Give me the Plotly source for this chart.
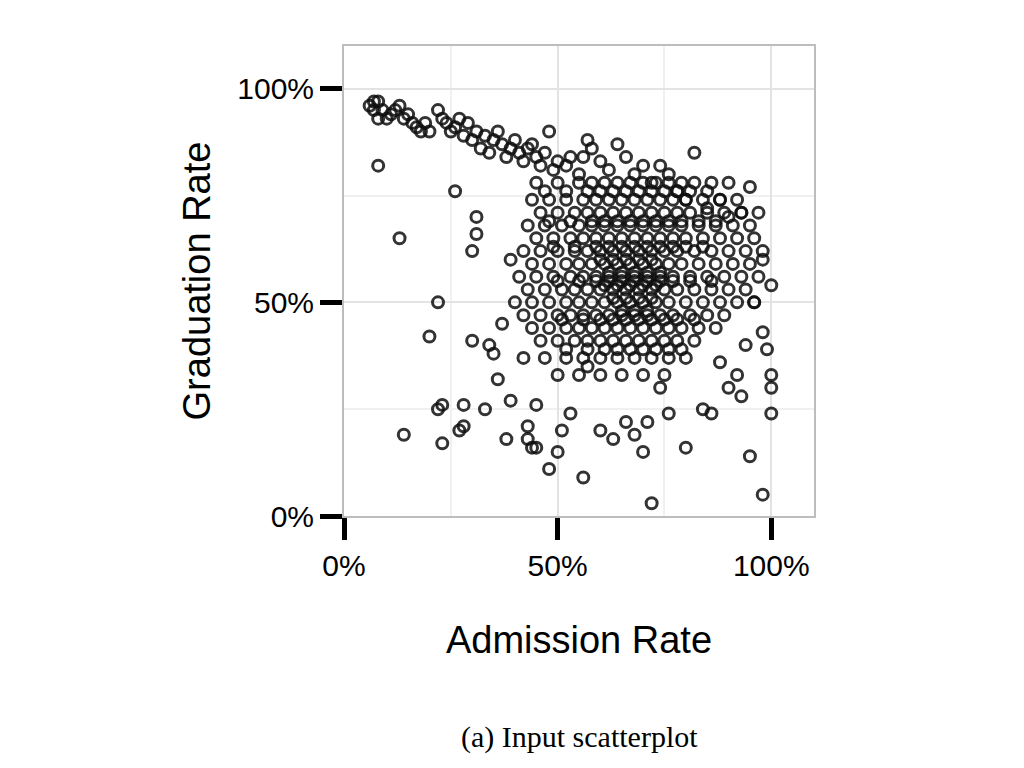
import plotly.graph_objects as go

# Admission rate (%) and graduation rate (%)
frontier_x = [6,7,7,8,8,9,10,11,12,13,14,15,16,17,18,19,20,22,23,24,25,26,27,28,29,30,31,32,33,34,35,36,37,38,39,40,41,42,43,44,45,46,47,48,49,50,52,53,55,56,57,58,60,62,64,66,68,70,72,74,76,78,80,82,85,88,90,93,95]
frontier_y = [96,97,95,93,97,95,93,94,95,96,93,94,92,91,90,92,90,95,93,92,90,91,93,89,92,88,90,86,89,85,88,90,87,84,86,88,85,83,86,87,84,82,85,90,81,83,82,84,80,84,88,86,83,81,87,84,80,82,78,82,80,76,74,85,72,74,70,71,77]
outlier_x = [8,13,14,20,22,22,23,23,26,27,28,28,30,30,31,31,33,34,35,36,37,38,39,39,42,43,43,44,45,45,48,50,51,53,57,56,60,63,66,68,70,72,71,80,84,86,90,93,95,98,100,100,100,99,98,100,98,94,96,92,88,76,74]
outlier_y = [82,65,19,42,50,25,26,17,76,20,21,26,41,62,70,66,25,40,38,32,45,18,60,27,37,21,18,16,16,26,11,15,20,24,35,9,20,18,22,19,15,3,22,16,25,24,30,28,14,5,24,30,33,39,43,54,60,40,50,33,36,24,30]
cluster_x = [45,50,55,58,61,64,67,70,73,76,79,82,86,90,
             44,48,52,56,59,62,65,68,71,74,77,80,84,88,92,
             46,50,54,57,60,63,66,69,72,75,78,81,85,89,93,97,
             43,47,51,55,58,61,64,67,70,73,76,79,83,87,91,95,
             45,49,53,56,59,62,65,68,71,74,77,80,84,88,92,96,
             42,46,50,54,57,60,63,66,69,72,75,78,82,86,90,94,98,
             44,48,52,55,58,61,64,67,70,73,76,79,83,87,91,95,
             41,45,49,53,56,59,62,65,68,71,74,77,81,85,89,93,97,
             43,47,51,54,57,60,63,66,69,72,75,78,82,86,90,94,
             40,44,48,52,55,58,61,64,67,70,73,76,80,84,88,92,96,
             42,46,50,53,56,59,62,65,68,71,74,77,81,85,89,
             44,48,52,55,58,61,64,67,70,73,76,79,83,87,
             46,50,54,57,60,63,66,69,72,75,78,82,
             47,52,56,60,64,68,72,76,80,
             50,55,60,65,70,75,
             60,63,66,69,72,62,65,68,71,74,61,64,67,70,73,63,66,69,72,65,68,71]
cluster_y = [78]*14 + [74]*15 + [71]*16 + [68]*16 + [65]*16 + [62]*17 + [59]*16 + [56]*17 + [53]*16 + [50]*17 + [47]*15 + [44]*14 + [41]*12 + [37]*9 + [33]*6 + \
            [60,60,60,60,60,57,57,57,57,57,54,54,54,54,54,51,51,51,51,48,48,48]
# extra points filling the dense core, interleaved with the rows above
core_x = [47,52,57,60,63,66,69,72,75,78,81,85,48,53,58,61,64,67,70,73,76,79,83,87,
          49,54,59,62,65,68,71,74,77,80,84,50,55,59,62,65,68,71,74,77,81,86,
          51,56,60,63,66,69,72,75,78,82,52,57,61,64,67,70,73,76,79]
core_y = [76]*12 + [69]*12 + [63]*11 + [55]*11 + [46]*10 + [39]*9

xs = frontier_x + outlier_x + cluster_x + core_x
ys = frontier_y + outlier_y + cluster_y + core_y

fig = go.Figure(go.Scatter(
    x=xs, y=ys, mode="markers",
    marker=dict(symbol="circle-open", size=11, color="rgba(15,15,15,0.85)", line=dict(width=3)),
    showlegend=False))

axcommon = dict(range=[0, 110], showgrid=True, gridcolor="#e3e3e3", gridwidth=2,
                ticks="outside", ticklen=22, tickwidth=5, tickcolor="black",
                tickvals=[0, 50, 100], ticktext=["0%", "50%", "100%"],
                tickfont=dict(family="Liberation Sans, Arial", size=30, color="black"),
                showline=True, linecolor="#bdbdbd", linewidth=2, mirror=True, zeroline=False,
                minor=dict(tickvals=[25, 75], showgrid=True, gridcolor="#f0f0f0", gridwidth=2, ticks=""),
                title_font=dict(family="Liberation Sans, Arial", size=38, color="black"))
fig.update_xaxes(**axcommon, title_text="Admission Rate", title_standoff=45)
fig.update_yaxes(**axcommon, title_text="Graduation Rate", title_standoff=15)

fig.update_layout(width=1024, height=768, plot_bgcolor="white", paper_bgcolor="white",
                  margin=dict(l=336, r=218, t=38, b=260),
                  annotations=[dict(text="(a) Input scatterplot", x=0.5, xref="paper", xanchor="center",
                                    y=-0.47, yref="paper", yanchor="middle", showarrow=False,
                                    font=dict(family="Liberation Serif, Times New Roman", size=30, color="black"))])
fig.write_html("out.html")
